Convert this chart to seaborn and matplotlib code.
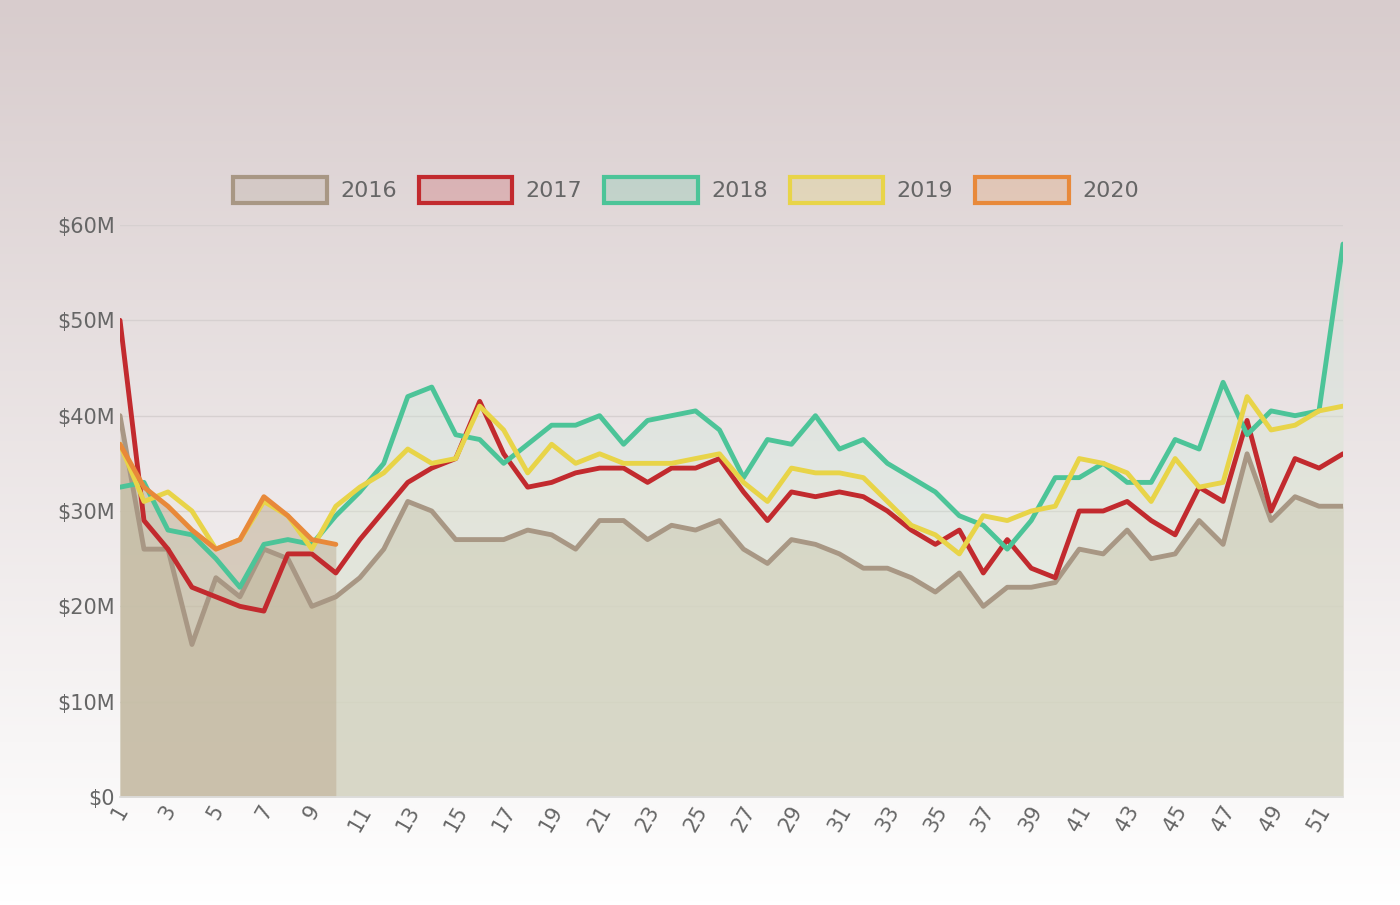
import matplotlib
matplotlib.use("Agg")
import matplotlib.pyplot as plt
from matplotlib.patches import Patch
import numpy as np
import pandas as pd
import seaborn as sns

weeks = list(range(1, 53))
y2016 = [40, 26, 26, 16, 23, 21, 26, 25, 20, 21, 23, 26, 31, 30, 27, 27, 27, 28, 27.5, 26,
         29, 29, 27, 28.5, 28, 29, 26, 24.5, 27, 26.5, 25.5, 24, 24, 23, 21.5, 23.5, 20, 22,
         22, 22.5, 26, 25.5, 28, 25, 25.5, 29, 26.5, 36, 29, 31.5, 30.5, 30.5]
y2017 = [50, 29, 26, 22, 21, 20, 19.5, 25.5, 25.5, 23.5, 27, 30, 33, 34.5, 35.5, 41.5, 36,
         32.5, 33, 34, 34.5, 34.5, 33, 34.5, 34.5, 35.5, 32, 29, 32, 31.5, 32, 31.5, 30, 28,
         26.5, 28, 23.5, 27, 24, 23, 30, 30, 31, 29, 27.5, 32.5, 31, 39.5, 30, 35.5, 34.5, 36]
y2018 = [32.5, 33, 28, 27.5, 25, 22, 26.5, 27, 26.5, 29.5, 32, 35, 42, 43, 38, 37.5, 35, 37,
         39, 39, 40, 37, 39.5, 40, 40.5, 38.5, 33.5, 37.5, 37, 40, 36.5, 37.5, 35, 33.5, 32,
         29.5, 28.5, 26, 29, 33.5, 33.5, 35, 33, 33, 37.5, 36.5, 43.5, 38, 40.5, 40, 40.5, 58]
y2019 = [37, 31, 32, 30, 26, 27, 31, 29.5, 26, 30.5, 32.5, 34, 36.5, 35, 35.5, 41, 38.5, 34,
         37, 35, 36, 35, 35, 35, 35.5, 36, 33, 31, 34.5, 34, 34, 33.5, 31, 28.5, 27.5, 25.5,
         29.5, 29, 30, 30.5, 35.5, 35, 34, 31, 35.5, 32.5, 33, 42, 38.5, 39, 40.5, 41]
y2020 = [37, 32.5, 30.5, 28, 26, 27, 31.5, 29.5, 27, 26.5]

series = [("2016", y2016, "#a89784"), ("2017", y2017, "#c22a2e"),
          ("2018", y2018, "#4cc498"), ("2019", y2019, "#e8d448"),
          ("2020", y2020, "#e8893a")]
fills = {"2016": ("#c8bba4", 0.75), "2017": ("#e2d8cc", 0.25), "2018": ("#cfe6d8", 0.35),
         "2019": ("#ebe4cf", 0.2), "2020": ("#b9a68a", 0.45)}

sns.set_theme(style="white")
plt.rcParams['font.family'] = ['DejaVu Sans']

fig = plt.figure(figsize=(14, 9.05), dpi=100)
bg = fig.add_axes([0, 0, 1, 1])
grad = np.linspace(0, 1, 256).reshape(-1, 1)
bg.imshow(grad, aspect="auto", cmap=matplotlib.colors.LinearSegmentedColormap.from_list(
    "bg", ["#d8cccd", "#ffffff"]), extent=[0, 1, 0, 1], origin="upper")
bg.axis("off")

ax = fig.add_axes([120 / 1400, 108 / 905, 1223 / 1400, 572 / 905])
ax.patch.set_alpha(0)

for name, vals, col in series:
    fc, a = fills[name]
    ax.fill_between(weeks[:len(vals)], 0, vals, color=fc, alpha=a, lw=0)
for name, vals, col in series:
    df = pd.DataFrame({"week": weeks[:len(vals)], "value": vals})
    sns.lineplot(data=df, x="week", y="value", ax=ax, color=col, lw=3.5)

ax.set_xlim(1, 52)
ax.set_ylim(0, 60)
ax.set_yticks(range(0, 61, 10))
ax.set_yticklabels(["$0"] + [f"${v}M" for v in range(10, 61, 10)])
ax.set_xticks(range(1, 53, 2))
ax.set_xticklabels([str(w) for w in range(1, 53, 2)], rotation=60)
ax.tick_params(colors="#666666", labelsize=15, length=0)
ax.yaxis.grid(True, color="#d6d0d0", lw=1)
ax.set_xlabel("")
ax.set_ylabel("")
for s in ["top", "right", "left"]:
    ax.spines[s].set_visible(False)
ax.spines["bottom"].set_color("#dddddd")

handles = [Patch(facecolor=matplotlib.colors.to_rgba(c, 0.2), edgecolor=c, lw=3, label=n)
           for n, _, c in series]
fig.legend(handles=handles, loc="center", bbox_to_anchor=(0.49, 1 - 190 / 905), ncol=5,
           frameon=False, fontsize=16, handlelength=4.2, handleheight=1.4,
           columnspacing=1.0, handletextpad=0.6, labelcolor="#666666")

fig.savefig("out.png", dpi=100)
